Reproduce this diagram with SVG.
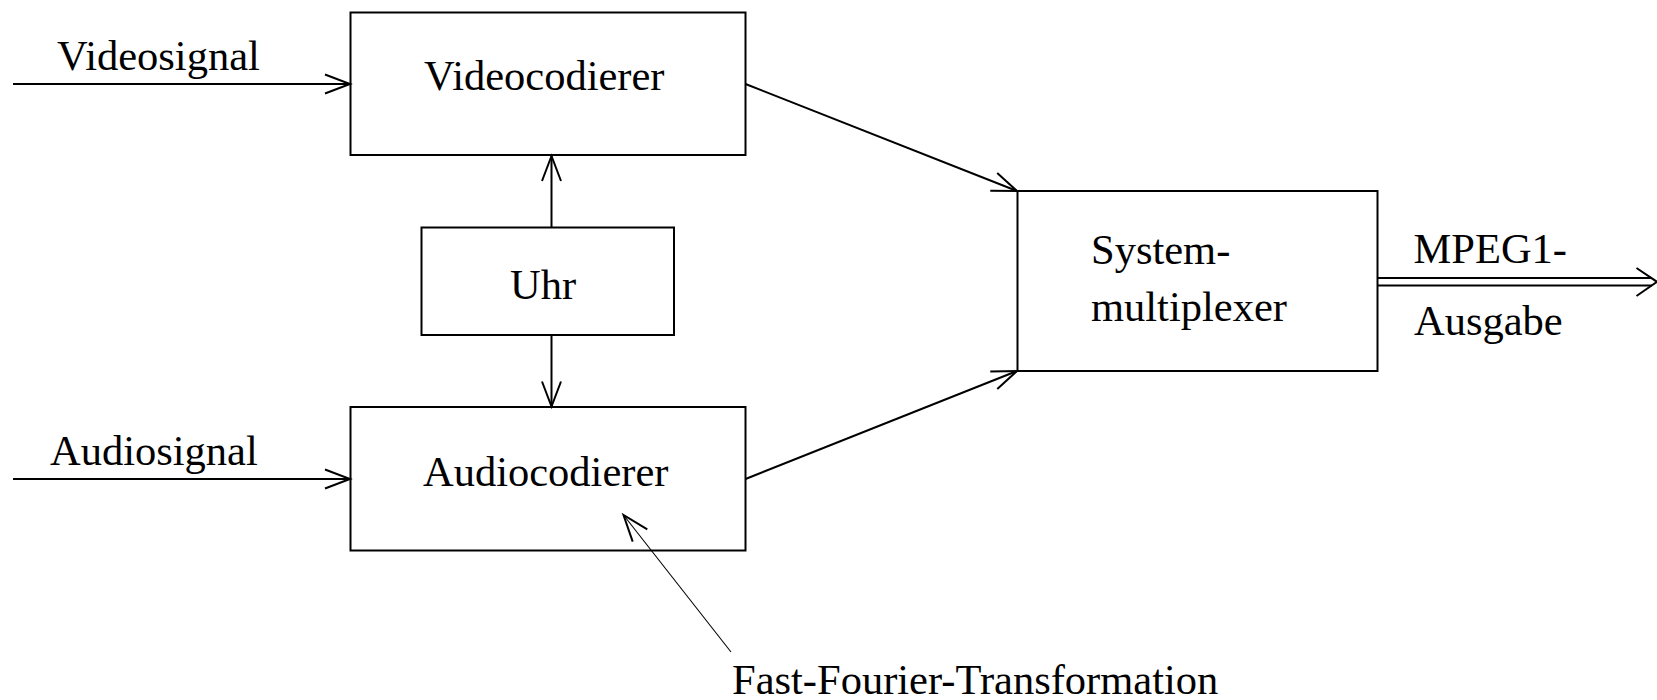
<svg xmlns="http://www.w3.org/2000/svg" width="1657" height="700" viewBox="0 0 1657 700">
  <style>
    .box { fill: #ffffff; stroke: #000000; stroke-width: 2; }
    .lbl { font-family: "Liberation Serif", "Times New Roman", serif; font-size: 42.5px; fill: #000000; }
    .edge { fill: none; stroke: #000000; stroke-width: 2; }
    .thin { fill: none; stroke: #000000; stroke-width: 1.1; }
    .head { fill: none; stroke: #000000; stroke-width: 2; stroke-linejoin: miter; }
  </style>
  <defs>
    <marker id="open" markerUnits="userSpaceOnUse" markerWidth="40" markerHeight="30" viewBox="-30 -15 34 30" refX="0" refY="0" orient="auto" overflow="visible">
      <path class="head" d="M-25,-9.5 L0,0 L-25,9.5"/>
    </marker>
  </defs>
  <rect width="1657" height="700" fill="#ffffff"/>

  <g id="videocodierer">
    <rect class="box" x="350.5" y="12.5" width="395" height="142.5"/>
    <text class="lbl" x="424" y="90">Videocodierer</text>
  </g>
  <g id="uhr">
    <rect class="box" x="421.5" y="227.5" width="252.5" height="107.5"/>
    <text class="lbl" x="510" y="299">Uhr</text>
  </g>
  <g id="audiocodierer">
    <rect class="box" x="350.5" y="407" width="395" height="143.5"/>
    <text class="lbl" x="423" y="486">Audiocodierer</text>
  </g>
  <g id="systemmultiplexer">
    <rect class="box" x="1017.5" y="191" width="360" height="180"/>
    <text class="lbl" x="1091" y="264">System-</text>
    <text class="lbl" x="1091" y="321">multiplexer</text>
  </g>

  <!-- connectors, drawn over the boxes so the pointer into the audio coder stays visible -->
  <g id="connectors">
    <line class="edge" x1="13" y1="84" x2="350" y2="84" marker-end="url(#open)"/>
    <line class="edge" x1="13" y1="479" x2="350" y2="479" marker-end="url(#open)"/>
    <line class="edge" x1="551.5" y1="227" x2="551.5" y2="156" marker-end="url(#open)"/>
    <line class="edge" x1="551.5" y1="335" x2="551.5" y2="406.5" marker-end="url(#open)"/>
    <line class="edge" x1="745.5" y1="84" x2="1017" y2="191" marker-end="url(#open)"/>
    <line class="edge" x1="745.5" y1="479" x2="1017" y2="371" marker-end="url(#open)"/>
    <!-- double-line output -->
    <line class="edge" x1="1377.5" y1="278" x2="1652" y2="278"/>
    <line class="edge" x1="1377.5" y1="285.5" x2="1652" y2="285.5"/>
    <path class="head" d="M1636.5,268 L1657,281.8 L1636.5,296"/>
    <!-- annotation pointer -->
    <line class="thin" x1="731" y1="652" x2="623.5" y2="515"/>
    <path class="head" d="M632.7,541.7 L623.5,515 L647.3,529.3"/>
  </g>

  <g id="labels">
    <text class="lbl" x="57" y="70">Videosignal</text>
    <text class="lbl" x="50" y="465">Audiosignal</text>
    <text class="lbl" x="1413.5" y="263">MPEG1-</text>
    <text class="lbl" x="1414" y="335">Ausgabe</text>
    <text class="lbl" x="732" y="694">Fast-Fourier-Transformation</text>
  </g>
</svg>
